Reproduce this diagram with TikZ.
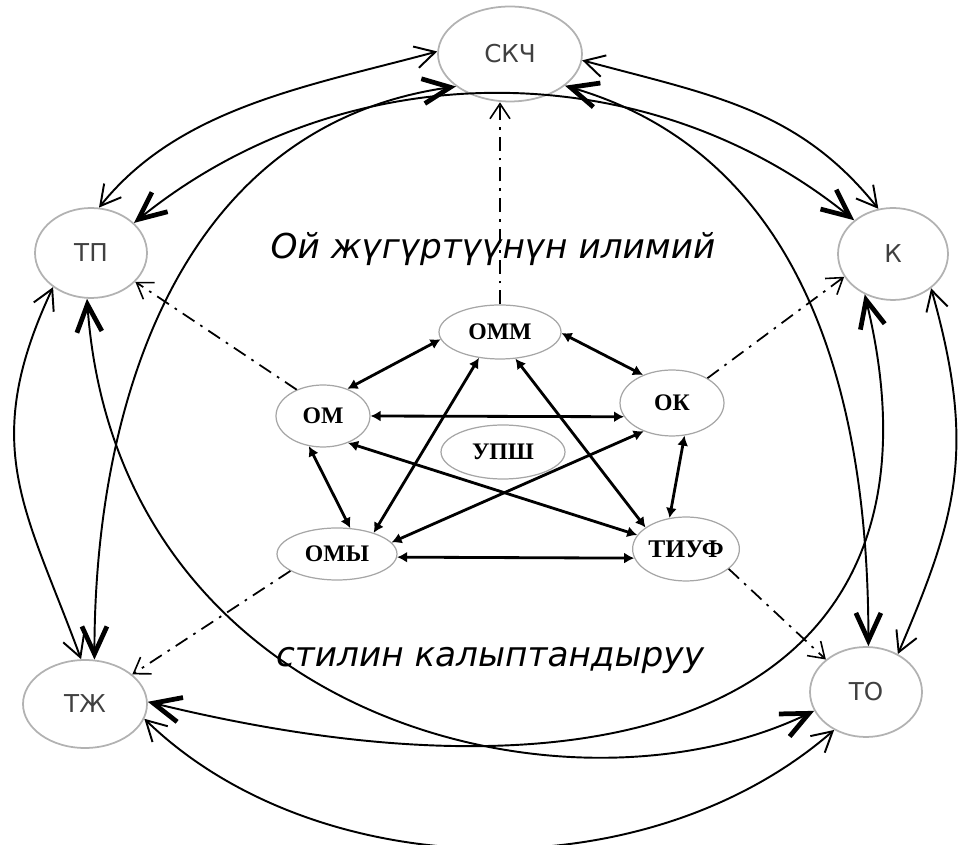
\documentclass[tikz,border=0pt]{standalone}
\usepackage{fontspec}
\setmainfont{Liberation Serif}
\newfontfamily\labelfont{DejaVu Sans}
\newfontfamily\slantfont{DejaVu Sans Oblique}
\usetikzlibrary{arrows.meta,shapes.geometric}

\begin{document}
\begin{tikzpicture}[
  x=0.02cm, y=0.02cm,
  ext/.style={draw=gray!60, ellipse, line width=1pt, inner sep=0pt, minimum width=2.24cm, minimum height=1.8cm, font=\labelfont\fontsize{14}{16}\selectfont, text=black!75},
  core/.style={draw=gray!70, ellipse, line width=0.7pt, inner sep=0pt, font=\bfseries\fontsize{13.5}{15}\selectfont},
  note/.style={font=\slantfont\fontsize{19.5}{23}\selectfont, inner sep=0pt},
  thn/.style={{Straight Barb[length=4mm,width=4.4mm,line width=1.1pt]}-{Straight Barb[length=4mm,width=4.4mm,line width=1.1pt]}, line width=1.1pt},
  thk/.style={{Straight Barb[length=5.5mm,width=5mm,line width=2.7pt]}-{Straight Barb[length=5.5mm,width=5mm,line width=2.7pt]}, line width=1.1pt},
  lnk/.style={{Latex[length=2mm,width=2.2mm]}-{Latex[length=2mm,width=2.2mm]}, line width=1.6pt},
  dd/.style={-{Straight Barb[length=3mm,width=4mm,line width=0.9pt]}, line width=1pt, dash pattern=on 8pt off 4pt on 1.5pt off 4pt}
]
\useasboundingbox (0,0) rectangle (960,845);
\node[ext, minimum width=2.88cm, minimum height=1.9cm] (skch) at (510,791) {СКЧ};
\node[ext] (tp) at (91,592) {ТП};
\node[ext, minimum width=2.2cm, minimum height=1.84cm] (k) at (893,591) {К};
\node[ext, minimum width=2.48cm, minimum height=1.76cm] (tzh) at (85,141) {ТЖ};
\node[ext] (to) at (866,153) {ТО};
\node[core, minimum width=2.44cm, minimum height=1.08cm] (omm) at (500,513) {ОММ};
\node[core, minimum width=1.88cm, minimum height=1.24cm] (om) at (323,429) {ОМ};
\node[core, minimum width=2.08cm, minimum height=1.32cm] (ok) at (672,442) {ОК};
\node[core, minimum width=2.48cm, minimum height=1.08cm] (upsh) at (503,393) {УПШ};
\node[core, minimum width=2.4cm, minimum height=1.04cm] (omy) at (337,291) {ОМЫ};
\node[core, minimum width=2cm, minimum height=1.28cm, font=\bfseries\fontsize{14.5}{16}\selectfont] (tiuf) at (686,296) {ТИУФ};
\node[note] (upper) at (493,596) {Ой жүгүртүүнүн илимий};
\node[note] (lower) at (490,185) {стилин калыптандыруу};
\draw[dd] (omm.north) -- (omm.north |- skch.south);
\draw[dd] (om.135) -- (tp.327);
\draw[dd] (ok.35) -- (k.205);
\draw[dd] (omy.200) -- (tzh.32);
\draw[dd] (tiuf.335) -- (to.141);
\draw[thn] (skch.178) .. controls +(-130,-35) and +(80,100) .. (tp.80);
\draw[thn] (skch.355) .. controls +(130,-35) and +(-80,100) .. (k.108);
\draw[thk] (skch.211) .. controls +(-280,-40) and +(0,250) .. (tzh.78);
\draw[thk] (skch.330) .. controls +(240,-70) and +(0,250) .. (to.87);
\draw[thk] (tp.35) .. controls +(210,170) and +(-210,170) .. (k.139);
\draw[thn] (tp.222) .. controls +(-75,-160) and +(-55,150) .. (tzh.95);
\draw[thn] (k.318) .. controls +(45,-160) and +(60,140) .. (to.50);
\draw[thk] (tp.265) .. controls +(30,-420) and +(-250,-120) .. (to.200);
\draw[thk] (k.235) .. controls +(95,-391) and +(503,-123) .. (tzh.2);
\draw[thn] (tzh.346) .. controls +(170,-165) and +(-190,-165) .. (to.230);
\draw[lnk] (omm.187) -- (om.48);
\draw[lnk] (omm.359) -- (ok.136);
\draw[lnk] (om.0) -- (ok.196);
\draw[lnk] (omm.231) -- (omy.30);
\draw[lnk] (omm.300) -- (tiuf.152);
\draw[lnk] (om.313) -- (tiuf.164);
\draw[lnk] (ok.225) -- (omy.12);
\draw[lnk] (ok.291) -- (tiuf.118);
\draw[lnk] (om.245) -- (omy.63);
\draw[lnk] (omy.357) -- (tiuf.190);
\end{tikzpicture}
\end{document}
